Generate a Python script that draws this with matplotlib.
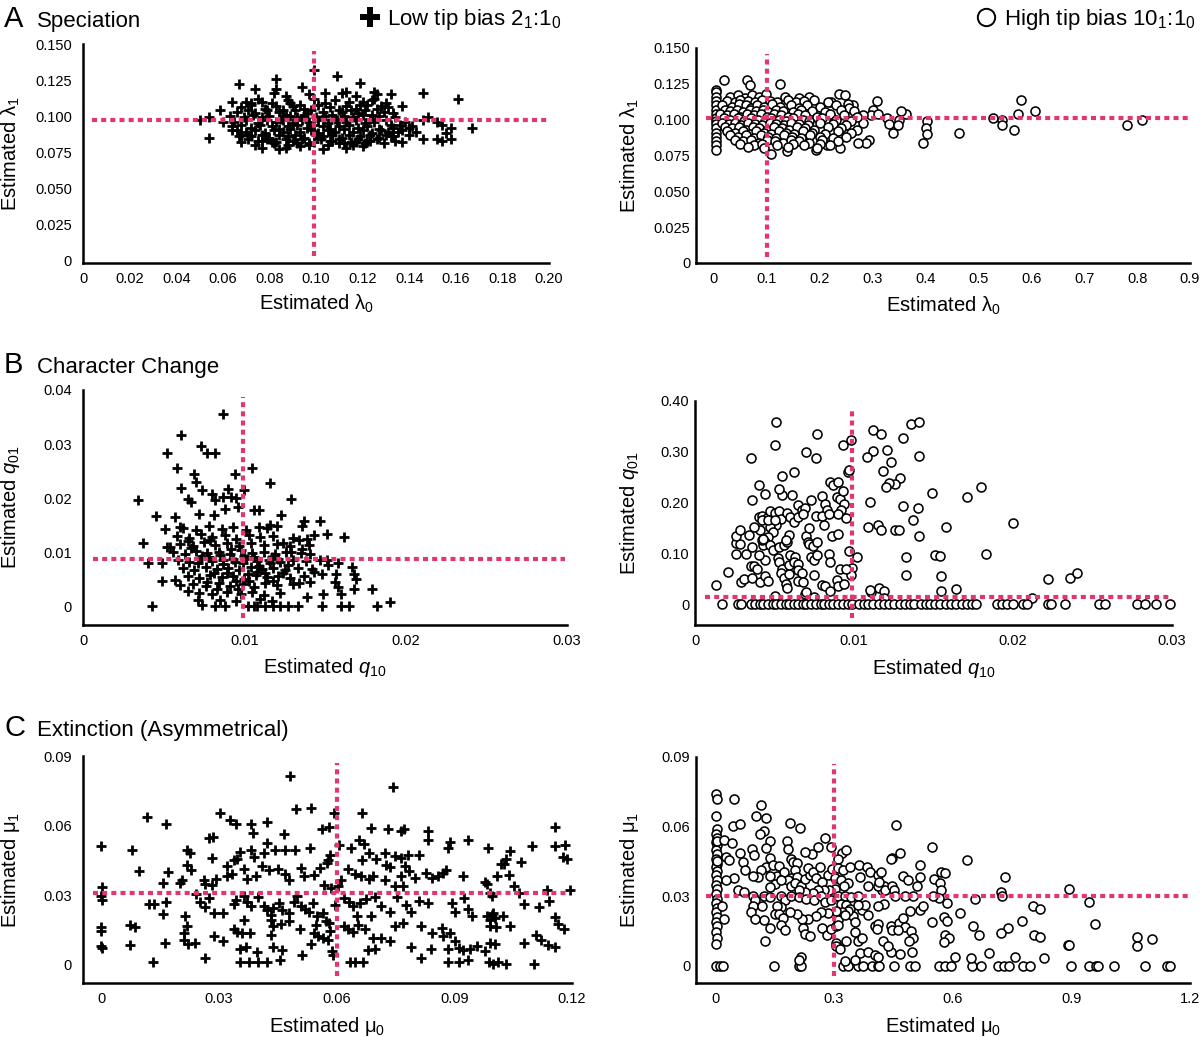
"""Tip-bias scatter figure: estimated vs true rates, low (2:1) and high (10:1) tip bias."""

import matplotlib
matplotlib.use('Agg')
import matplotlib.pyplot as plt
from matplotlib.lines import Line2D

plt.rcParams.update({
    'font.family': ['Liberation Sans', 'DejaVu Sans'],
    'mathtext.fontset': 'custom',
    'mathtext.rm': 'Liberation Sans',
    'mathtext.it': 'Liberation Sans:italic',
    'mathtext.bf': 'Liberation Sans:bold',
})

PINK = '#E2366F'
W, H = 1200, 1037

# true parameter values (dotted pink lines), (x, y)
TRUE_SPEC_LOW = (0.099, 0.097)
TRUE_SPEC_HIGH = (0.100, 0.101)
TRUE_CHAR_LOW = (0.0099, 0.0088)
TRUE_CHAR_HIGH = (0.0099, 0.014)
TRUE_EXT_LOW = (0.060, 0.031)
TRUE_EXT_HIGH = (0.300, 0.030)

# ---- A: speciation, low tip bias (lambda0, lambda1)
SPEC_LOW = [
    (0.099, 0.132), (0.109, 0.128), (0.083, 0.126), (0.119, 0.123), (0.067, 0.122), (0.074, 0.119),
    (0.083, 0.119), (0.094, 0.120), (0.146, 0.116), (0.132, 0.115), (0.161, 0.112), (0.113, 0.117),
    (0.104, 0.116), (0.125, 0.117), (0.137, 0.107), (0.064, 0.110), (0.050, 0.097), (0.054, 0.099),
    (0.059, 0.104), (0.060, 0.096), (0.054, 0.085), (0.064, 0.090), (0.068, 0.082), (0.077, 0.078),
    (0.084, 0.077), (0.087, 0.078), (0.103, 0.077), (0.113, 0.078), (0.120, 0.079), (0.129, 0.081),
    (0.137, 0.082), (0.146, 0.084), (0.152, 0.084), (0.154, 0.083), (0.158, 0.084), (0.167, 0.092),
    (0.158, 0.092), (0.154, 0.094), (0.152, 0.096), (0.148, 0.099), (0.156, 0.088), (0.143, 0.089),
    (0.140, 0.092), (0.136, 0.094), (0.132, 0.094), (0.146, 0.097), (0.130, 0.109), (0.126, 0.115),
    (0.124, 0.111), (0.128, 0.107), (0.135, 0.089), (0.133, 0.086), (0.140, 0.087), (0.130, 0.087),
    (0.123, 0.083), (0.117, 0.082), (0.110, 0.081), (0.107, 0.083), (0.097, 0.080), (0.092, 0.081),
    (0.081, 0.082), (0.077, 0.083), (0.071, 0.087), (0.067, 0.086), (0.072, 0.109), (0.077, 0.110),
    (0.082, 0.116), (0.087, 0.114), (0.089, 0.109), (0.097, 0.115), (0.111, 0.116), (0.117, 0.114),
    (0.120, 0.110),
    (0.070, 0.110), (0.075, 0.112), (0.081, 0.109), (0.088, 0.111), (0.093, 0.108), (0.099, 0.112),
    (0.104, 0.109), (0.108, 0.111), (0.114, 0.110), (0.119, 0.108), (0.125, 0.112),
    (0.068, 0.106), (0.072, 0.108), (0.078, 0.105), (0.083, 0.107), (0.086, 0.104), (0.090, 0.107),
    (0.095, 0.105), (0.101, 0.108), (0.106, 0.106), (0.110, 0.104), (0.113, 0.107), (0.117, 0.105),
    (0.122, 0.108), (0.126, 0.105), (0.131, 0.106),
    (0.066, 0.103), (0.071, 0.104), (0.074, 0.102), (0.079, 0.104), (0.084, 0.103), (0.087, 0.101),
    (0.091, 0.104), (0.096, 0.102), (0.098, 0.104), (0.103, 0.103), (0.107, 0.101), (0.111, 0.103),
    (0.115, 0.104), (0.118, 0.102), (0.121, 0.104), (0.124, 0.101), (0.129, 0.103), (0.133, 0.102),
    (0.063, 0.100), (0.069, 0.099), (0.073, 0.101), (0.077, 0.099), (0.080, 0.100), (0.085, 0.098),
    (0.089, 0.100), (0.092, 0.099), (0.095, 0.101), (0.100, 0.099), (0.104, 0.100), (0.108, 0.098),
    (0.112, 0.100), (0.116, 0.099), (0.120, 0.101), (0.123, 0.098), (0.127, 0.100), (0.134, 0.099),
    (0.065, 0.096), (0.070, 0.097), (0.075, 0.095), (0.079, 0.097), (0.083, 0.096), (0.086, 0.097),
    (0.090, 0.095), (0.094, 0.097), (0.097, 0.096), (0.101, 0.097), (0.105, 0.095), (0.109, 0.097),
    (0.113, 0.096), (0.117, 0.097), (0.121, 0.095), (0.125, 0.096), (0.130, 0.097), (0.138, 0.096),
    (0.064, 0.093), (0.068, 0.094), (0.072, 0.092), (0.076, 0.094), (0.081, 0.093), (0.084, 0.091),
    (0.088, 0.093), (0.092, 0.094), (0.096, 0.092), (0.099, 0.094), (0.103, 0.093), (0.106, 0.091),
    (0.110, 0.093), (0.114, 0.094), (0.118, 0.092), (0.122, 0.093), (0.127, 0.091), (0.133, 0.092),
    (0.141, 0.093),
    (0.066, 0.090), (0.070, 0.089), (0.074, 0.090), (0.078, 0.088), (0.082, 0.090), (0.086, 0.089),
    (0.089, 0.091), (0.093, 0.089), (0.098, 0.090), (0.101, 0.088), (0.105, 0.090), (0.108, 0.089),
    (0.112, 0.091), (0.116, 0.089), (0.120, 0.090), (0.124, 0.088), (0.128, 0.090), (0.131, 0.089),
    (0.137, 0.090),
    (0.068, 0.087), (0.072, 0.086), (0.077, 0.087), (0.080, 0.085), (0.084, 0.087), (0.088, 0.086),
    (0.091, 0.087), (0.095, 0.085), (0.100, 0.087), (0.103, 0.086), (0.107, 0.087), (0.111, 0.085),
    (0.114, 0.087), (0.119, 0.086), (0.123, 0.087), (0.127, 0.085), (0.132, 0.086),
    (0.071, 0.084), (0.075, 0.083), (0.079, 0.084), (0.083, 0.082), (0.087, 0.084), (0.090, 0.083),
    (0.094, 0.084), (0.099, 0.082), (0.102, 0.084), (0.106, 0.083), (0.110, 0.084), (0.115, 0.082),
    (0.118, 0.084), (0.122, 0.083), (0.126, 0.084), (0.134, 0.083),
    (0.074, 0.080), (0.082, 0.081), (0.088, 0.080), (0.093, 0.079), (0.097, 0.081), (0.105, 0.080),
    (0.112, 0.081), (0.116, 0.080), (0.121, 0.081),
]

# ---- A: speciation, high tip bias
SPEC_HIGH = [
    (0.003, 0.121), (0.003, 0.119), (0.003, 0.116), (0.003, 0.113), (0.003, 0.110), (0.003, 0.107),
    (0.003, 0.104), (0.003, 0.101), (0.003, 0.099), (0.003, 0.097), (0.003, 0.094), (0.003, 0.091),
    (0.003, 0.088), (0.003, 0.085), (0.003, 0.082), (0.003, 0.079),
    (0.019, 0.128), (0.063, 0.128), (0.069, 0.124), (0.125, 0.125), (0.237, 0.118), (0.247, 0.117),
    (0.581, 0.114), (0.575, 0.104), (0.528, 0.101), (0.545, 0.100), (0.545, 0.096), (0.567, 0.093),
    (0.464, 0.091), (0.403, 0.099), (0.400, 0.094), (0.403, 0.090), (0.395, 0.084), (0.363, 0.104),
    (0.353, 0.106), (0.350, 0.100), (0.328, 0.101), (0.331, 0.097), (0.347, 0.096), (0.338, 0.091),
    (0.308, 0.113), (0.300, 0.107), (0.297, 0.103), (0.310, 0.104), (0.281, 0.103), (0.281, 0.098),
    (0.294, 0.086), (0.288, 0.084), (0.272, 0.084), (0.263, 0.110), (0.253, 0.111), (0.222, 0.112),
    (0.219, 0.103), (0.138, 0.078), (0.108, 0.076), (0.192, 0.079), (0.213, 0.082), (0.238, 0.080),
    (0.607, 0.106), (0.781, 0.096), (0.809, 0.100),
    (0.030, 0.116), (0.045, 0.117), (0.058, 0.115), (0.072, 0.117), (0.085, 0.116), (0.098, 0.118),
    (0.135, 0.116), (0.160, 0.115), (0.180, 0.116),
    (0.025, 0.113), (0.040, 0.112), (0.050, 0.114), (0.065, 0.113), (0.078, 0.112), (0.090, 0.114),
    (0.105, 0.113), (0.120, 0.112), (0.140, 0.114), (0.155, 0.112), (0.170, 0.113), (0.190, 0.114),
    (0.215, 0.112),
    (0.015, 0.110), (0.035, 0.109), (0.047, 0.111), (0.060, 0.110), (0.070, 0.108), (0.082, 0.110),
    (0.095, 0.109), (0.110, 0.111), (0.125, 0.109), (0.145, 0.110), (0.160, 0.108), (0.175, 0.110),
    (0.200, 0.109), (0.230, 0.110), (0.255, 0.108),
    (0.020, 0.107), (0.030, 0.106), (0.043, 0.107), (0.055, 0.105), (0.068, 0.107), (0.080, 0.106),
    (0.092, 0.107), (0.103, 0.105), (0.118, 0.107), (0.130, 0.106), (0.150, 0.105), (0.165, 0.107),
    (0.185, 0.106), (0.210, 0.105), (0.240, 0.107), (0.265, 0.106),
    (0.012, 0.104), (0.025, 0.103), (0.038, 0.104), (0.050, 0.102), (0.063, 0.104), (0.075, 0.103),
    (0.088, 0.104), (0.100, 0.102), (0.113, 0.104), (0.127, 0.103), (0.140, 0.102), (0.158, 0.104),
    (0.172, 0.103), (0.195, 0.102), (0.220, 0.104), (0.245, 0.103), (0.270, 0.102),
    (0.018, 0.101), (0.030, 0.100), (0.045, 0.101), (0.057, 0.099), (0.070, 0.101), (0.083, 0.100),
    (0.096, 0.099), (0.108, 0.101), (0.122, 0.100), (0.136, 0.099), (0.150, 0.101), (0.168, 0.100),
    (0.180, 0.099), (0.205, 0.101), (0.230, 0.100), (0.260, 0.099),
    (0.015, 0.098), (0.028, 0.097), (0.040, 0.098), (0.052, 0.096), (0.065, 0.098), (0.078, 0.097),
    (0.090, 0.096), (0.105, 0.098), (0.118, 0.097), (0.132, 0.096), (0.145, 0.098), (0.160, 0.097),
    (0.178, 0.096), (0.200, 0.098), (0.225, 0.097), (0.250, 0.096),
    (0.020, 0.095), (0.035, 0.094), (0.048, 0.095), (0.060, 0.093), (0.073, 0.095), (0.086, 0.094),
    (0.100, 0.093), (0.113, 0.095), (0.128, 0.094), (0.142, 0.093), (0.157, 0.095), (0.172, 0.094),
    (0.190, 0.093), (0.215, 0.095), (0.240, 0.094), (0.270, 0.093),
    (0.025, 0.092), (0.040, 0.091), (0.055, 0.092), (0.068, 0.090), (0.080, 0.092), (0.094, 0.091),
    (0.108, 0.090), (0.122, 0.092), (0.137, 0.091), (0.152, 0.090), (0.168, 0.092), (0.185, 0.091),
    (0.210, 0.090), (0.235, 0.092), (0.260, 0.091),
    (0.030, 0.089), (0.045, 0.088), (0.060, 0.089), (0.075, 0.087), (0.088, 0.089), (0.102, 0.088),
    (0.117, 0.087), (0.132, 0.089), (0.148, 0.088), (0.165, 0.087), (0.182, 0.089), (0.200, 0.088),
    (0.225, 0.087), (0.250, 0.088),
    (0.040, 0.086), (0.055, 0.085), (0.070, 0.086), (0.085, 0.084), (0.100, 0.086), (0.115, 0.085),
    (0.130, 0.084), (0.145, 0.086), (0.160, 0.085), (0.180, 0.084), (0.205, 0.086), (0.235, 0.085),
    (0.050, 0.083), (0.075, 0.082), (0.090, 0.083), (0.120, 0.082), (0.150, 0.083), (0.170, 0.082),
    (0.200, 0.083), (0.220, 0.082), (0.065, 0.081), (0.095, 0.080), (0.140, 0.081), (0.195, 0.080),
]

# ---- B: character change, low tip bias (q10, q01)
CHAR_LOW = [
    (0.0087, 0.0356), (0.0061, 0.0317), (0.0052, 0.0283), (0.0073, 0.0296), (0.0077, 0.0284),
    (0.0082, 0.0284), (0.0105, 0.0256), (0.0058, 0.0255), (0.0094, 0.0244), (0.0069, 0.0244),
    (0.0070, 0.0230), (0.0116, 0.0227), (0.0061, 0.0219), (0.0074, 0.0214), (0.0090, 0.0216),
    (0.0100, 0.0214), (0.0080, 0.0207), (0.0092, 0.0202), (0.0095, 0.0201), (0.0065, 0.0199),
    (0.0067, 0.0193), (0.0082, 0.0196), (0.0087, 0.0202), (0.0034, 0.0196), (0.0129, 0.0199),
    (0.0096, 0.0184), (0.0088, 0.0179), (0.0045, 0.0167), (0.0057, 0.0165), (0.0123, 0.0168),
    (0.0106, 0.0177), (0.0109, 0.0177), (0.0072, 0.0171), (0.0081, 0.0169), (0.0147, 0.0158),
    (0.0137, 0.0158), (0.0136, 0.0148), (0.0116, 0.0150), (0.0120, 0.0148), (0.0109, 0.0147),
    (0.0151, 0.0134), (0.0143, 0.0131), (0.0162, 0.0128), (0.0134, 0.0123), (0.0139, 0.0125),
    (0.0124, 0.0117), (0.0037, 0.0116), (0.0052, 0.0110), (0.0054, 0.0110), (0.0060, 0.0147),
    (0.0051, 0.0143), (0.0136, 0.0106), (0.0141, 0.0097), (0.0129, 0.0100), (0.0040, 0.0079),
    (0.0049, 0.0079), (0.0151, 0.0086), (0.0158, 0.0079), (0.0152, 0.0076), (0.0167, 0.0073),
    (0.0168, 0.0060), (0.0169, 0.0051), (0.0157, 0.0060), (0.0156, 0.0045), (0.0158, 0.0036),
    (0.0143, 0.0063), (0.0148, 0.0060), (0.0179, 0.0032), (0.0168, 0.0032), (0.0160, 0.0023),
    (0.0190, 0.0008), (0.0149, 0.0023), (0.0141, 0.0045), (0.0134, 0.0043), (0.0139, 0.0017),
    (0.0049, 0.0047), (0.0057, 0.0049), (0.0060, 0.0039), (0.0065, 0.0028), (0.0071, 0.0011),
    (0.0074, 0.0002),
    (0.0043, 0.0), (0.0082, 0.0), (0.0088, 0.0), (0.0102, 0.0), (0.0106, 0.0), (0.0108, 0.0),
    (0.0113, 0.0), (0.0118, 0.0), (0.0122, 0.0), (0.0127, 0.0), (0.0133, 0.0), (0.0148, 0.0),
    (0.0160, 0.0), (0.0165, 0.0), (0.0182, 0.0),
    (0.0062, 0.0145), (0.0070, 0.0140), (0.0078, 0.0148), (0.0086, 0.0142), (0.0093, 0.0146),
    (0.0101, 0.0141), (0.0114, 0.0144),
    (0.0058, 0.0130), (0.0066, 0.0126), (0.0073, 0.0133), (0.0080, 0.0128), (0.0088, 0.0131),
    (0.0095, 0.0125), (0.0103, 0.0132), (0.0110, 0.0127), (0.0118, 0.0130), (0.0130, 0.0126),
    (0.0060, 0.0115), (0.0068, 0.0112), (0.0075, 0.0118), (0.0082, 0.0113), (0.0089, 0.0116),
    (0.0097, 0.0111), (0.0104, 0.0117), (0.0112, 0.0113), (0.0120, 0.0115), (0.0128, 0.0111),
    (0.0140, 0.0114),
    (0.0056, 0.0100), (0.0063, 0.0097), (0.0070, 0.0102), (0.0077, 0.0098), (0.0084, 0.0101),
    (0.0091, 0.0096), (0.0098, 0.0103), (0.0105, 0.0099), (0.0112, 0.0101), (0.0119, 0.0097),
    (0.0126, 0.0100), (0.0135, 0.0098),
    (0.0059, 0.0085), (0.0066, 0.0082), (0.0073, 0.0087), (0.0080, 0.0083), (0.0087, 0.0086),
    (0.0094, 0.0081), (0.0101, 0.0087), (0.0108, 0.0084), (0.0115, 0.0086), (0.0122, 0.0082),
    (0.0130, 0.0085), (0.0138, 0.0083), (0.0147, 0.0086),
    (0.0062, 0.0070), (0.0069, 0.0067), (0.0076, 0.0072), (0.0083, 0.0068), (0.0090, 0.0071),
    (0.0097, 0.0066), (0.0104, 0.0072), (0.0111, 0.0069), (0.0118, 0.0071), (0.0125, 0.0067),
    (0.0133, 0.0070), (0.0142, 0.0068),
    (0.0065, 0.0055), (0.0072, 0.0052), (0.0079, 0.0057), (0.0086, 0.0053), (0.0093, 0.0056),
    (0.0100, 0.0051), (0.0107, 0.0057), (0.0114, 0.0054), (0.0121, 0.0056), (0.0128, 0.0052),
    (0.0137, 0.0055),
    (0.0068, 0.0040), (0.0076, 0.0037), (0.0084, 0.0042), (0.0091, 0.0038), (0.0099, 0.0041),
    (0.0106, 0.0036), (0.0113, 0.0042), (0.0120, 0.0039), (0.0130, 0.0040),
    (0.0072, 0.0025), (0.0080, 0.0022), (0.0089, 0.0027), (0.0098, 0.0023), (0.0105, 0.0026),
    (0.0112, 0.0021), (0.0122, 0.0025),
    (0.0085, 0.0012), (0.0095, 0.0009), (0.0110, 0.0013), (0.0117, 0.0010),
    (0.0065, 0.0120), (0.0079, 0.0122), (0.0092, 0.0106), (0.0100, 0.0092), (0.0087, 0.0078),
    (0.0108, 0.0063), (0.0095, 0.0047), (0.0074, 0.0092), (0.0117, 0.0091), (0.0081, 0.0061),
    (0.0067, 0.0107), (0.0071, 0.0079), (0.0078, 0.0090), (0.0085, 0.0094), (0.0089, 0.0061),
    (0.0093, 0.0088), (0.0099, 0.0079), (0.0102, 0.0060), (0.0106, 0.0091), (0.0109, 0.0075),
    (0.0113, 0.0062), (0.0116, 0.0079), (0.0121, 0.0088), (0.0124, 0.0061), (0.0127, 0.0076),
    (0.0096, 0.0032), (0.0083, 0.0031), (0.0103, 0.0046), (0.0077, 0.0045), (0.0118, 0.0047),
]

# ---- B: character change, high tip bias
CHAR_HIGH = [
    (0.0051, 0.358), (0.0050, 0.314), (0.0035, 0.288), (0.0077, 0.335), (0.0070, 0.299),
    (0.0076, 0.287), (0.0093, 0.313), (0.0098, 0.324), (0.0096, 0.260), (0.0097, 0.264),
    (0.0112, 0.343), (0.0117, 0.335), (0.0136, 0.354), (0.0141, 0.358), (0.0131, 0.328),
    (0.0112, 0.302), (0.0108, 0.289), (0.0121, 0.303), (0.0123, 0.280), (0.0141, 0.292),
    (0.0118, 0.262), (0.0129, 0.249), (0.0126, 0.236), (0.0122, 0.239), (0.0120, 0.231),
    (0.0149, 0.219), (0.0171, 0.211), (0.0180, 0.230), (0.0110, 0.201), (0.0131, 0.194),
    (0.0140, 0.190), (0.0137, 0.165), (0.0109, 0.151), (0.0115, 0.155), (0.0117, 0.147),
    (0.0126, 0.147), (0.0128, 0.147), (0.0158, 0.152), (0.0141, 0.134), (0.0200, 0.159),
    (0.0183, 0.099), (0.0133, 0.093), (0.0151, 0.096), (0.0154, 0.094), (0.0133, 0.057),
    (0.0155, 0.056), (0.0155, 0.026), (0.0164, 0.029), (0.0222, 0.049), (0.0236, 0.052),
    (0.0240, 0.061), (0.0212, 0.013), (0.0102, 0.093), (0.0099, 0.071), (0.0098, 0.057),
    (0.0097, 0.104), (0.0111, 0.024), (0.0116, 0.032), (0.0119, 0.026), (0.0110, 0.027),
    (0.0119, 0.013),
    (0.0013, 0.037), (0.0021, 0.063), (0.0029, 0.044), (0.0031, 0.050), (0.0036, 0.052),
    (0.0026, 0.098), (0.0032, 0.098), (0.0026, 0.120), (0.0028, 0.118), (0.0026, 0.134),
    (0.0028, 0.147), (0.0034, 0.136), (0.0035, 0.075), (0.0037, 0.076), (0.0039, 0.070),
    (0.0041, 0.044), (0.0044, 0.055), (0.0046, 0.046), (0.0044, 0.086), (0.0040, 0.097),
    (0.0036, 0.113), (0.0041, 0.147), (0.0040, 0.172), (0.0042, 0.173), (0.0045, 0.170),
    (0.0047, 0.184), (0.0050, 0.180), (0.0053, 0.184), (0.0054, 0.168), (0.0058, 0.180),
    (0.0060, 0.172), (0.0062, 0.162), (0.0065, 0.172), (0.0065, 0.196), (0.0067, 0.186),
    (0.0069, 0.190), (0.0068, 0.177), (0.0073, 0.205), (0.0076, 0.173), (0.0080, 0.212),
    (0.0082, 0.197), (0.0083, 0.185), (0.0080, 0.173), (0.0084, 0.177), (0.0085, 0.241),
    (0.0087, 0.234), (0.0090, 0.241), (0.0089, 0.211), (0.0091, 0.208), (0.0093, 0.223),
    (0.0094, 0.197), (0.0092, 0.186), (0.0090, 0.178), (0.0095, 0.170), (0.0061, 0.214),
    (0.0055, 0.214), (0.0053, 0.226), (0.0044, 0.216), (0.0036, 0.206), (0.0040, 0.234),
    (0.0055, 0.253), (0.0062, 0.260), (0.0051, 0.155), (0.0047, 0.152), (0.0049, 0.142),
    (0.0046, 0.132), (0.0044, 0.122), (0.0043, 0.116), (0.0047, 0.117), (0.0049, 0.106),
    (0.0053, 0.113), (0.0056, 0.116), (0.0052, 0.090), (0.0053, 0.083), (0.0055, 0.070),
    (0.0054, 0.061), (0.0056, 0.052), (0.0057, 0.039), (0.0058, 0.031), (0.0059, 0.060),
    (0.0059, 0.077), (0.0060, 0.096), (0.0063, 0.093), (0.0062, 0.083), (0.0065, 0.080),
    (0.0065, 0.067), (0.0067, 0.061), (0.0065, 0.046), (0.0068, 0.044), (0.0069, 0.021),
    (0.0070, 0.134), (0.0071, 0.122), (0.0072, 0.119), (0.0074, 0.114), (0.0077, 0.122),
    (0.0072, 0.149), (0.0073, 0.093), (0.0075, 0.086), (0.0077, 0.096), (0.0075, 0.057),
    (0.0080, 0.037), (0.0082, 0.035), (0.0085, 0.025), (0.0084, 0.099), (0.0085, 0.083),
    (0.0086, 0.134), (0.0090, 0.138), (0.0091, 0.070), (0.0089, 0.047), (0.0090, 0.035),
    (0.0094, 0.040), (0.0095, 0.070), (0.0081, 0.155), (0.0058, 0.122), (0.0059, 0.136),
    (0.0057, 0.126), (0.0042, 0.126), (0.0043, 0.129), (0.0037, 0.152), (0.0042, 0.165),
    (0.0046, 0.165), (0.0050, 0.165), (0.0050, 0.017), (0.0070, 0.024), (0.0075, 0.014),
    (0.0017, 0.0), (0.0027, 0.0), (0.0029, 0.0), (0.0035, 0.0), (0.0038, 0.0), (0.0041, 0.0),
    (0.0043, 0.0), (0.0046, 0.0), (0.0049, 0.0), (0.0051, 0.0), (0.0054, 0.0), (0.0057, 0.0),
    (0.0059, 0.0), (0.0062, 0.0), (0.0065, 0.0), (0.0068, 0.0), (0.0070, 0.0), (0.0073, 0.0),
    (0.0076, 0.0), (0.0079, 0.0), (0.0081, 0.0), (0.0084, 0.0), (0.0087, 0.0), (0.0090, 0.0),
    (0.0093, 0.0), (0.0096, 0.0), (0.0099, 0.0), (0.0103, 0.0), (0.0106, 0.0), (0.0109, 0.0),
    (0.0112, 0.0), (0.0116, 0.0), (0.0119, 0.0), (0.0122, 0.0), (0.0125, 0.0), (0.0129, 0.0),
    (0.0132, 0.0), (0.0135, 0.0), (0.0138, 0.0), (0.0142, 0.0), (0.0145, 0.0), (0.0148, 0.0),
    (0.0151, 0.0), (0.0154, 0.0), (0.0158, 0.0), (0.0161, 0.0), (0.0164, 0.0), (0.0168, 0.0),
    (0.0171, 0.0), (0.0174, 0.0), (0.0177, 0.0), (0.0190, 0.0), (0.0193, 0.0), (0.0196, 0.0),
    (0.0200, 0.0), (0.0206, 0.0), (0.0209, 0.0), (0.0222, 0.0), (0.0224, 0.0), (0.0233, 0.0),
    (0.0254, 0.0), (0.0258, 0.0), (0.0278, 0.0), (0.0283, 0.0), (0.0290, 0.0), (0.0299, 0.0),
]

# ---- C: extinction, low tip bias (mu0, mu1)
EXT_LOW = [
    (0.0482, 0.0814), (0.0744, 0.0765), (0.0117, 0.0639), (0.0166, 0.0608), (0.0303, 0.0653),
    (0.0328, 0.0625), (0.0343, 0.0608), (0.0383, 0.0608), (0.0422, 0.0615), (0.0496, 0.0671),
    (0.0535, 0.0675), (0.0593, 0.0653), (0.0665, 0.0653), (0.0582, 0.0596), (0.0562, 0.0585),
    (0.0689, 0.0589), (0.0731, 0.0585), (0.0764, 0.0579), (0.0772, 0.0585), (0.0834, 0.0579),
    (0.0832, 0.0539), (0.0889, 0.0531), (0.0936, 0.0539), (0.0987, 0.0503), (0.0885, 0.0503),
    (0.0386, 0.0567), (0.0465, 0.0564), (0.0275, 0.0546), (0.0286, 0.0550), (0.0000, 0.0513),
    (0.0080, 0.0496), (0.0219, 0.0493), (0.0226, 0.0481), (0.0283, 0.0460), (0.0340, 0.0450),
    (0.0354, 0.0488), (0.0381, 0.0496), (0.0390, 0.0464), (0.0415, 0.0481), (0.0424, 0.0524),
    (0.0443, 0.0493), (0.0468, 0.0493), (0.0494, 0.0493), (0.0533, 0.0503), (0.0579, 0.0450),
    (0.0584, 0.0474), (0.0607, 0.0517), (0.0636, 0.0503), (0.0656, 0.0536), (0.0671, 0.0521),
    (0.0682, 0.0484), (0.0701, 0.0455), (0.0665, 0.0450), (0.0724, 0.0484), (0.0748, 0.0470),
    (0.0764, 0.0460), (0.0782, 0.0474), (0.0810, 0.0474), (0.0727, 0.0431), (0.0735, 0.0421),
    (0.0774, 0.0424), (0.0785, 0.0405), (0.0880, 0.0409), (0.0859, 0.0384), (0.0872, 0.0395),
    (0.0842, 0.0374), (0.0923, 0.0384), (0.1008, 0.0381), (0.0978, 0.0359), (0.0983, 0.0349),
    (0.1019, 0.0434), (0.0096, 0.0405), (0.0170, 0.0402), (0.0158, 0.0352), (0.0201, 0.0352),
    (0.0207, 0.0366), (0.0219, 0.0431), (0.0228, 0.0407), (0.0262, 0.0366), (0.0264, 0.0349),
    (0.0292, 0.0369), (0.0283, 0.0345), (0.0322, 0.0427), (0.0322, 0.0384), (0.0334, 0.0392),
    (0.0347, 0.0455), (0.0363, 0.0412), (0.0373, 0.0369), (0.0394, 0.0384), (0.0411, 0.0424),
    (0.0428, 0.0407), (0.0451, 0.0412), (0.0468, 0.0392), (0.0480, 0.0366), (0.0509, 0.0417),
    (0.0516, 0.0381), (0.0543, 0.0388), (0.0559, 0.0417), (0.0567, 0.0345), (0.0576, 0.0438),
    (0.0586, 0.0331), (0.0603, 0.0341), (0.0612, 0.0366), (0.0629, 0.0412), (0.0646, 0.0392),
    (0.0663, 0.0384), (0.0682, 0.0369), (0.0693, 0.0384), (0.0724, 0.0366), (0.0750, 0.0341),
    (0.0770, 0.0341), (0.0765, 0.0384), (0.0799, 0.0374), (0.0829, 0.0395), (0.0002, 0.0335),
    (0.0000, 0.0298), (0.0002, 0.0280), (0.0121, 0.0263), (0.0136, 0.0263), (0.0166, 0.0269),
    (0.0158, 0.0220), (0.0241, 0.0306), (0.0252, 0.0269), (0.0264, 0.0249), (0.0275, 0.0288),
    (0.0289, 0.0223), (0.0311, 0.0223), (0.0343, 0.0280), (0.0340, 0.0263), (0.0364, 0.0298),
    (0.0373, 0.0273), (0.0381, 0.0252), (0.0400, 0.0292), (0.0414, 0.0252), (0.0424, 0.0237),
    (0.0433, 0.0216), (0.0439, 0.0244), (0.0454, 0.0266), (0.0462, 0.0237), (0.0480, 0.0223),
    (0.0492, 0.0269), (0.0499, 0.0295), (0.0509, 0.0252), (0.0520, 0.0240), (0.0531, 0.0226),
    (0.0539, 0.0266), (0.0550, 0.0209), (0.0565, 0.0223), (0.0573, 0.0187), (0.0582, 0.0180),
    (0.0595, 0.0259), (0.0620, 0.0288), (0.0633, 0.0273), (0.0641, 0.0252), (0.0659, 0.0266),
    (0.0676, 0.0283), (0.0697, 0.0292), (0.0713, 0.0255), (0.0736, 0.0230), (0.0753, 0.0292),
    (0.0776, 0.0259), (0.0791, 0.0226), (0.0810, 0.0277), (0.0834, 0.0266), (0.0893, 0.0266),
    (0.0902, 0.0230), (0.0936, 0.0240), (0.0944, 0.0211), (0.0983, 0.0209), (0.0997, 0.0216),
    (0.0925, 0.0288), (0.0000, 0.0163), (0.0000, 0.0144), (0.0000, 0.0082), (0.0002, 0.0072),
    (0.0073, 0.0173), (0.0087, 0.0163), (0.0074, 0.0087), (0.0132, 0.0011), (0.0164, 0.0094),
    (0.0211, 0.0137), (0.0211, 0.0108), (0.0221, 0.0091), (0.0240, 0.0094), (0.0218, 0.0166),
    (0.0213, 0.0211), (0.0264, 0.0029), (0.0289, 0.0125), (0.0311, 0.0101), (0.0340, 0.0154),
    (0.0347, 0.0140), (0.0360, 0.0137), (0.0364, 0.0194), (0.0380, 0.0137), (0.0354, 0.0068),
    (0.0369, 0.0079), (0.0354, 0.0011), (0.0377, 0.0011), (0.0397, 0.0054), (0.0400, 0.0011),
    (0.0424, 0.0011), (0.0433, 0.0194), (0.0437, 0.0166), (0.0434, 0.0130), (0.0439, 0.0079),
    (0.0458, 0.0177), (0.0462, 0.0065), (0.0456, 0.0019), (0.0480, 0.0187), (0.0508, 0.0154),
    (0.0511, 0.0044), (0.0535, 0.0091), (0.0543, 0.0137), (0.0548, 0.0173), (0.0554, 0.0123),
    (0.0565, 0.0115), (0.0577, 0.0108), (0.0588, 0.0058), (0.0590, 0.0044), (0.0584, 0.0144),
    (0.0620, 0.0166), (0.0629, 0.0154), (0.0641, 0.0140), (0.0654, 0.0173), (0.0653, 0.0209),
    (0.0673, 0.0154), (0.0687, 0.0209), (0.0693, 0.0115), (0.0714, 0.0115), (0.0680, 0.0065),
    (0.0699, 0.0068), (0.0736, 0.0101), (0.0748, 0.0166), (0.0770, 0.0180), (0.0635, 0.0011),
    (0.0647, 0.0011), (0.0667, 0.0011), (0.0816, 0.0168), (0.0815, 0.0029), (0.0791, 0.0079),
    (0.0842, 0.0137), (0.0840, 0.0068), (0.0868, 0.0158), (0.0872, 0.0123), (0.0885, 0.0068),
    (0.0889, 0.0137), (0.0902, 0.0105), (0.0912, 0.0072), (0.0885, 0.0011), (0.0912, 0.0011),
    (0.0936, 0.0019), (0.0923, 0.0065), (0.0940, 0.0068), (0.0957, 0.0082), (0.0979, 0.0058),
    (0.0991, 0.0094), (0.0989, 0.0011), (0.1011, 0.0011), (0.0991, 0.0166), (0.0991, 0.0192),
    (0.0990, 0.0310), (0.0995, 0.0296), (0.0999, 0.0224), (0.1004, 0.0203), (0.1006, 0.0164),
    (0.1004, 0.0092), (0.0999, 0.0006), (0.1032, 0.0006), (0.1024, 0.0212), (0.1026, 0.0435),
    (0.1032, 0.0458), (0.1042, 0.0492), (0.1040, 0.0388), (0.1042, 0.0168), (0.1053, 0.0339),
    (0.1064, 0.0310), (0.1071, 0.0445), (0.1077, 0.0264), (0.1077, 0.0096), (0.1097, 0.0511),
    (0.1104, 0.0006), (0.1108, 0.0128), (0.1116, 0.0250), (0.1120, 0.0107), (0.1136, 0.0322),
    (0.1142, 0.0276), (0.1138, 0.0085), (0.1156, 0.0594), (0.1156, 0.0511), (0.1156, 0.0207),
    (0.1157, 0.0078), (0.1165, 0.0178), (0.1177, 0.0464), (0.1183, 0.0516), (0.1180, 0.0155),
    (0.1194, 0.0322), (0.1188, 0.0457),
]

# ---- C: extinction, high tip bias
EXT_HIGH = [
    (0.002, 0.074), (0.004, 0.072), (0.002, 0.0645), (0.004, 0.059), (0.002, 0.057), (0.005, 0.055),
    (0.002, 0.0535), (0.004, 0.052), (0.002, 0.050), (0.005, 0.048), (0.002, 0.046), (0.004, 0.044),
    (0.002, 0.0425), (0.005, 0.041), (0.002, 0.039), (0.004, 0.037), (0.002, 0.035), (0.005, 0.033),
    (0.002, 0.031), (0.004, 0.029), (0.002, 0.027), (0.005, 0.025), (0.002, 0.023), (0.004, 0.021),
    (0.002, 0.019), (0.005, 0.017), (0.002, 0.0145), (0.004, 0.012), (0.002, 0.0095),
    (0.004, 0.054), (0.004, 0.045), (0.022, 0.020), (0.018, 0.026),
    (0.002, 0.0), (0.012, 0.0), (0.021, 0.0), (0.149, 0.0), (0.211, 0.0), (0.217, 0.0),
    (0.324, 0.0), (0.337, 0.0), (0.360, 0.0), (0.375, 0.0), (0.396, 0.0), (0.411, 0.0),
    (0.415, 0.0), (0.451, 0.0), (0.493, 0.0), (0.504, 0.0), (0.565, 0.0), (0.580, 0.0),
    (0.595, 0.0), (0.648, 0.0), (0.673, 0.0), (0.716, 0.0), (0.730, 0.0), (0.743, 0.0),
    (0.777, 0.0), (0.795, 0.0), (0.899, 0.0), (0.946, 0.0), (0.963, 0.0), (0.967, 0.0),
    (1.009, 0.0), (1.086, 0.0), (1.142, 0.0), (1.149, 0.0),
    (1.067, 0.0125), (1.067, 0.0085), (1.105, 0.0117), (0.892, 0.009),
    (0.049, 0.072), (0.117, 0.0693), (0.104, 0.0646), (0.129, 0.0636), (0.045, 0.0604),
    (0.062, 0.0610), (0.189, 0.0617), (0.214, 0.0593), (0.123, 0.0579), (0.113, 0.0569),
    (0.022, 0.0543), (0.042, 0.0528), (0.140, 0.0538), (0.182, 0.0540), (0.184, 0.0504),
    (0.278, 0.0550), (0.293, 0.0514), (0.457, 0.0607), (0.548, 0.0511), (0.637, 0.0454),
    (0.468, 0.0485), (0.448, 0.0464), (0.445, 0.0460), (0.259, 0.0510), (0.245, 0.0482),
    (0.228, 0.0492), (0.320, 0.0485), (0.330, 0.0500), (0.310, 0.0459), (0.028, 0.0471),
    (0.036, 0.0457), (0.064, 0.0485), (0.070, 0.0449), (0.093, 0.0503), (0.098, 0.0478),
    (0.129, 0.0507), (0.138, 0.0464), (0.129, 0.0425), (0.146, 0.0435), (0.161, 0.0431),
    (0.157, 0.0388), (0.138, 0.0388), (0.115, 0.0414), (0.108, 0.0382), (0.096, 0.0385),
    (0.076, 0.0411), (0.049, 0.0378), (0.028, 0.0368), (0.057, 0.0327), (0.073, 0.0320),
    (0.096, 0.0299), (0.100, 0.0285), (0.096, 0.0259), (0.118, 0.0256), (0.123, 0.0302),
    (0.138, 0.0296), (0.125, 0.0198), (0.138, 0.0162), (0.091, 0.0230), (0.100, 0.0201),
    (0.127, 0.0105), (0.169, 0.0373), (0.174, 0.0406), (0.193, 0.0460), (0.197, 0.0449),
    (0.208, 0.0442), (0.201, 0.0414), (0.193, 0.0378), (0.208, 0.0382), (0.184, 0.0370),
    (0.191, 0.0342), (0.203, 0.0359), (0.218, 0.0342), (0.228, 0.0373), (0.239, 0.0392),
    (0.235, 0.0421), (0.248, 0.0406), (0.265, 0.0428), (0.254, 0.0378), (0.271, 0.0363),
    (0.286, 0.0392), (0.296, 0.0416), (0.311, 0.0421), (0.324, 0.0414), (0.341, 0.0425),
    (0.303, 0.0378), (0.318, 0.0368), (0.335, 0.0359), (0.327, 0.0342), (0.303, 0.0330),
    (0.288, 0.0325), (0.276, 0.0327), (0.261, 0.0327), (0.248, 0.0313), (0.228, 0.0320),
    (0.211, 0.0325), (0.151, 0.0353), (0.138, 0.0339), (0.166, 0.0368), (0.166, 0.0302),
    (0.176, 0.0285), (0.191, 0.0299), (0.211, 0.0296), (0.231, 0.0287), (0.250, 0.0285),
    (0.269, 0.0299), (0.277, 0.0277), (0.294, 0.0285), (0.311, 0.0299), (0.328, 0.0302),
    (0.343, 0.0296), (0.362, 0.0299), (0.318, 0.0267), (0.330, 0.0263), (0.341, 0.0244),
    (0.349, 0.0215), (0.335, 0.0238), (0.321, 0.0234), (0.305, 0.0238), (0.286, 0.0227),
    (0.267, 0.0230), (0.254, 0.0215), (0.235, 0.0201), (0.220, 0.0201), (0.206, 0.0224),
    (0.189, 0.0230), (0.167, 0.0253), (0.157, 0.0256), (0.151, 0.0224), (0.161, 0.0224),
    (0.172, 0.0205), (0.167, 0.0177), (0.176, 0.0155), (0.223, 0.0162), (0.227, 0.0138),
    (0.240, 0.0127), (0.271, 0.0162), (0.282, 0.0134), (0.294, 0.0158), (0.305, 0.0172),
    (0.311, 0.0198), (0.305, 0.0098), (0.305, 0.0084), (0.316, 0.0072), (0.332, 0.0105),
    (0.354, 0.0144), (0.362, 0.0105), (0.354, 0.0191), (0.372, 0.0241), (0.379, 0.0263),
    (0.387, 0.0220), (0.403, 0.0170), (0.411, 0.0181), (0.409, 0.0158), (0.423, 0.0325),
    (0.428, 0.0342), (0.411, 0.0342), (0.387, 0.0342), (0.366, 0.0382), (0.364, 0.0435),
    (0.383, 0.0428), (0.392, 0.0406), (0.413, 0.0392), (0.420, 0.0406), (0.415, 0.0363),
    (0.430, 0.0325), (0.447, 0.0342), (0.453, 0.0327), (0.455, 0.0302), (0.428, 0.0267),
    (0.411, 0.0256), (0.445, 0.0170), (0.447, 0.0155), (0.464, 0.0184), (0.474, 0.0206),
    (0.481, 0.0167), (0.496, 0.0148), (0.499, 0.0119), (0.489, 0.0105), (0.476, 0.0388),
    (0.487, 0.0368), (0.499, 0.0302), (0.510, 0.0342), (0.519, 0.0382), (0.519, 0.0435),
    (0.479, 0.0302), (0.493, 0.0238), (0.519, 0.0241), (0.525, 0.0259), (0.552, 0.0373),
    (0.569, 0.0359), (0.572, 0.0406), (0.580, 0.0399), (0.572, 0.0327), (0.565, 0.0292),
    (0.550, 0.0299), (0.586, 0.0270), (0.578, 0.0212), (0.586, 0.0195), (0.580, 0.0134),
    (0.590, 0.0119), (0.578, 0.0101), (0.547, 0.0187), (0.618, 0.0227), (0.658, 0.0287),
    (0.652, 0.0172), (0.668, 0.0134), (0.722, 0.0320), (0.726, 0.0302), (0.733, 0.0382),
    (0.741, 0.0162), (0.722, 0.0141), (0.775, 0.0195), (0.804, 0.0259), (0.821, 0.0244),
    (0.806, 0.0134), (0.821, 0.0124), (0.895, 0.0330), (0.946, 0.0277), (0.959, 0.0181),
    (0.895, 0.0091), (0.832, 0.0033), (0.758, 0.0040), (0.692, 0.0055), (0.646, 0.0033),
    (0.607, 0.0040), (0.497, 0.0058), (0.366, 0.0055), (0.387, 0.0058), (0.403, 0.0048),
    (0.411, 0.0038), (0.354, 0.0023), (0.328, 0.0019), (0.218, 0.0040), (0.211, 0.0023),
    (0.445, 0.0058), (0.468, 0.0052), (0.311, 0.0177), (0.328, 0.0220), (0.362, 0.0263),
    (0.371, 0.0119), (0.425, 0.0105), (0.438, 0.0086), (0.462, 0.0155),
]

# pixel boxes (left, right, top, bottom) of each axes in the 1200x1037 canvas
PANELS = [
    dict(pts=SPEC_LOW, kind='plus', ref=TRUE_SPEC_LOW, box=(83, 549, 44, 263),
         xlim=(0, 0.2), ylim=(-0.002, 0.15),
         xt=[0, 0.02, 0.04, 0.06, 0.08, 0.10, 0.12, 0.14, 0.16, 0.18, 0.20],
         xtl=['0', '0.02', '0.04', '0.06', '0.08', '0.10', '0.12', '0.14', '0.16', '0.18', '0.20'],
         yt=[0, 0.025, 0.05, 0.075, 0.1, 0.125, 0.15],
         ytl=['0', '0.025', '0.050', '0.075', '0.100', '0.125', '0.150'],
         xlab=r'Estimated λ$_0$', ylab=r'Estimated λ$_1$', ylab_px=22, xlab_px=293, pad=8),
    dict(pts=SPEC_HIGH, kind='circle', ref=TRUE_SPEC_HIGH, box=(696, 1190, 48, 263),
         xlim=(-0.034, 0.9), ylim=(0, 0.15),
         xt=[0, 0.1, 0.2, 0.3, 0.4, 0.5, 0.6, 0.7, 0.8, 0.9],
         xtl=['0', '0.1', '0.2', '0.3', '0.4', '0.5', '0.6', '0.7', '0.8', '0.9'],
         yt=[0, 0.025, 0.05, 0.075, 0.1, 0.125, 0.15],
         ytl=['0', '0.025', '0.050', '0.075', '0.100', '0.125', '0.150'],
         xlab=r'Estimated λ$_0$', ylab=r'Estimated λ$_1$', ylab_px=641, xlab_px=295, pad=4),
    dict(pts=CHAR_LOW, kind='plus', ref=TRUE_CHAR_LOW, box=(83, 567, 390, 625),
         xlim=(0, 0.03), ylim=(-0.0035, 0.04),
         xt=[0, 0.01, 0.02, 0.03], xtl=['0', '0.01', '0.02', '0.03'],
         yt=[0, 0.01, 0.02, 0.03, 0.04], ytl=['0', '0.01', '0.02', '0.03', '0.04'],
         xlab=r'Estimated $q$$_{10}$', ylab=r'Estimated $q$$_{01}$', ylab_px=22, xlab_px=656, pad=8),
    dict(pts=CHAR_HIGH, kind='circle', ref=TRUE_CHAR_HIGH, box=(695, 1172, 401, 625),
         xlim=(0, 0.03), ylim=(-0.041, 0.40),
         xt=[0, 0.01, 0.02, 0.03], xtl=['0', '0.01', '0.02', '0.03'],
         yt=[0, 0.1, 0.2, 0.3, 0.4], ytl=['0', '0.10', '0.20', '0.30', '0.40'],
         xlab=r'Estimated $q$$_{10}$', ylab=r'Estimated $q$$_{01}$', ylab_px=641, xlab_px=657, pad=4),
    dict(pts=EXT_LOW, kind='plus', ref=TRUE_EXT_LOW, box=(83, 572, 756, 983),
         xlim=(-0.0046, 0.12), ylim=(-0.0078, 0.09),
         xt=[0, 0.03, 0.06, 0.09, 0.12], xtl=['0', '0.03', '0.06', '0.09', '0.12'],
         yt=[0, 0.03, 0.06, 0.09], ytl=['0', '0.03', '0.06', '0.09'],
         xlab=r'Estimated μ$_0$', ylab=r'Estimated μ$_1$', ylab_px=22, xlab_px=1015, pad=8),
    dict(pts=EXT_HIGH, kind='circle', ref=TRUE_EXT_HIGH, box=(696, 1190, 757, 983),
         xlim=(-0.048, 1.2), ylim=(-0.0074, 0.09),
         xt=[0, 0.3, 0.6, 0.9, 1.2], xtl=['0', '0.3', '0.6', '0.9', '1.2'],
         yt=[0, 0.03, 0.06, 0.09], ytl=['0', '0.03', '0.06', '0.09'],
         xlab=r'Estimated μ$_0$', ylab=r'Estimated μ$_1$', ylab_px=641, xlab_px=1015, pad=4),
]


def draw_panel(fig, p):
    l, r, t, b = p['box']
    ax = fig.add_axes([l / W, 1 - b / H, (r - l) / W, (b - t) / H])
    x = [v[0] for v in p['pts']]
    y = [v[1] for v in p['pts']]
    if p['kind'] == 'plus':
        ax.scatter(x, y, marker='+', s=48, c='black', linewidths=2.0, zorder=2, clip_on=False)
    else:
        ax.scatter(x, y, marker='o', s=42, facecolors='white', edgecolors='black',
                   linewidths=1.15, zorder=2, clip_on=False)
    ls = dict(color=PINK, lw=3.0, dashes=(1.2, 1.0), zorder=3)
    ax.axvline(p['ref'][0], ymin=0.03, ymax=0.97, **ls)
    ax.axhline(p['ref'][1], xmin=0.02, xmax=0.995, **ls)

    ax.set_xlim(*p['xlim'])
    ax.set_ylim(*p['ylim'])
    ax.set_xticks(p['xt'], p['xtl'])
    ax.set_yticks(p['yt'], p['ytl'])
    ax.tick_params(axis='x', length=0, pad=6.5, labelsize=10.5)
    ax.tick_params(axis='y', length=0, pad=p['pad'], labelsize=10.5)
    for s in ['top', 'right']:
        ax.spines[s].set_visible(False)
    for s in ['left', 'bottom']:
        ax.spines[s].set_linewidth(1.8)

    ax.set_xlabel(p['xlab'], fontsize=14.5)
    ax.set_ylabel(p['ylab'], fontsize=14.5)
    ax.xaxis.set_label_coords(0.5, -(p['xlab_px'] - b) / (b - t))
    ax.yaxis.set_label_coords((p['ylab_px'] - l) / (r - l), 0.5)
    return ax


fig = plt.figure(figsize=(12, 10.37), dpi=100)

for p in PANELS:
    draw_panel(fig, p)

# panel headings
for letter, title, base in [('A', 'Speciation', 27), ('B', 'Character Change', 373),
                            ('C', 'Extinction (Asymmetrical)', 736)]:
    fig.text(4 / W, 1 - base / H, letter, fontsize=21, va='baseline')
    fig.text(37 / W, 1 - base / H, title, fontsize=16, va='baseline')

# key at the top
fig.add_artist(Line2D([370 / W], [1 - 17 / H], marker='P', markersize=14, color='black',
                      markeredgewidth=0, transform=fig.transFigure))
fig.text(387 / W, 1 - 25 / H, r'Low tip bias 2$_1$:1$_0$', fontsize=16, va='baseline')
fig.add_artist(Line2D([986 / W], [1 - 17 / H], marker='o', markersize=12.5, markerfacecolor='white',
                      markeredgecolor='black', markeredgewidth=1.4, transform=fig.transFigure))
fig.text(1004 / W, 1 - 25 / H, r'High tip bias 10$_1$:1$_0$', fontsize=16, va='baseline')

fig.savefig('out.png', dpi=100)
